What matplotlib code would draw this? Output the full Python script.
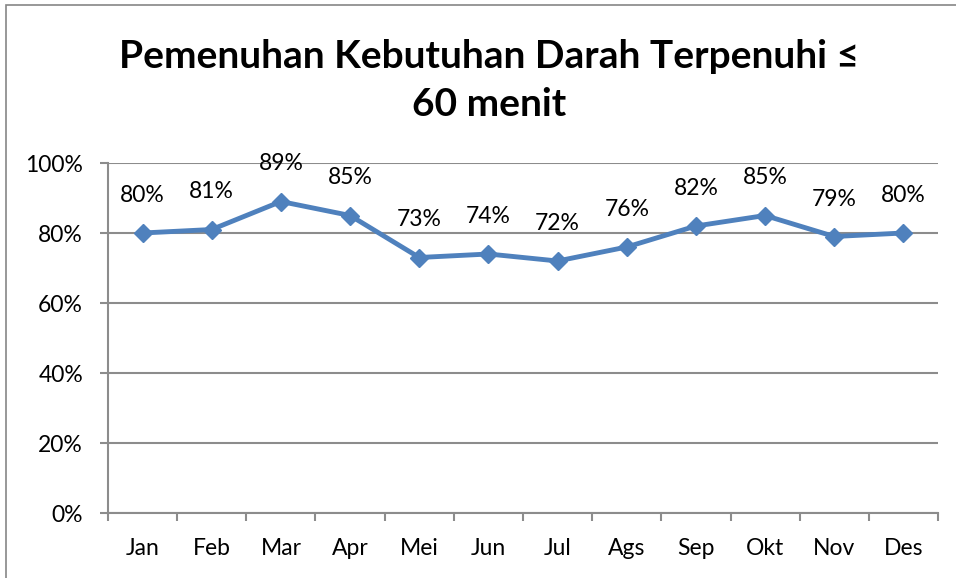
import matplotlib.pyplot as plt
from matplotlib.patches import Rectangle
from matplotlib.ticker import FixedLocator, PercentFormatter

plt.rcParams['font.family'] = ['Lato', 'DejaVu Sans']

months = ['Jan', 'Feb', 'Mar', 'Apr', 'Mei', 'Jun', 'Jul', 'Ags', 'Sep', 'Okt', 'Nov', 'Des']
values = [80, 81, 89, 85, 73, 74, 72, 76, 82, 85, 79, 80]
title_lines = ['Pemenuhan Kebutuhan Darah Terpenuhi ≤', '60 menit']

BLUE = '#4F81BD'
GRID = '#8c8c8c'

fig = plt.figure(figsize=(9.56, 5.78), dpi=100)
# chart border (left and top edges visible)
fig.patches.append(Rectangle((6 / 956, -0.1), 1.2, (578 - 5) / 578 + 0.1,
                             transform=fig.transFigure, fill=False,
                             edgecolor='#868686', linewidth=1.2))

ax = fig.add_axes([108 / 956, 65 / 578, 830 / 956, 350 / 578])
x = list(range(len(months)))
ax.plot(x, values, color=BLUE, linewidth=3.5, marker='D', markersize=9,
        markeredgecolor=BLUE, markerfacecolor=BLUE, zorder=3, clip_on=False)
for xi, v in zip(x, values):
    ax.annotate(f'{v}%', (xi, v), xytext=(0, 27), textcoords='offset points',
                ha='center', va='center', fontsize=16.5, color='black')

ax.set_xlim(-0.5, len(months) - 0.5)
ax.set_ylim(0, 100)
ax.set_yticks(range(0, 101, 20))
ax.yaxis.set_major_formatter(PercentFormatter(decimals=0))
ax.set_xticks(x)
ax.set_xticklabels(months)
ax.xaxis.set_major_locator(FixedLocator(x))
ax.set_xticks([i - 0.5 for i in range(len(months) + 1)], minor=True)
ax.tick_params(axis='x', which='major', length=0, pad=18, labelsize=16.5)
ax.tick_params(axis='x', which='minor', length=6, width=1.5, color=GRID, direction='out')
ax.tick_params(axis='y', length=6, width=1.5, color=GRID, labelsize=16.5, pad=12)

ax.grid(axis='y', color=GRID, linewidth=1.5)
ax.set_axisbelow(True)
for side in ['top', 'right']:
    ax.spines[side].set_visible(False)
for side in ['left', 'bottom']:
    ax.spines[side].set_color(GRID)
    ax.spines[side].set_linewidth(1.5)

for yy, line in zip([1 - 57 / 578, 1 - 105 / 578], title_lines):
    fig.text(0.512, yy, line, ha='center', va='center', fontsize=28,
             fontweight='bold')

fig.savefig('out.png', dpi=100)
